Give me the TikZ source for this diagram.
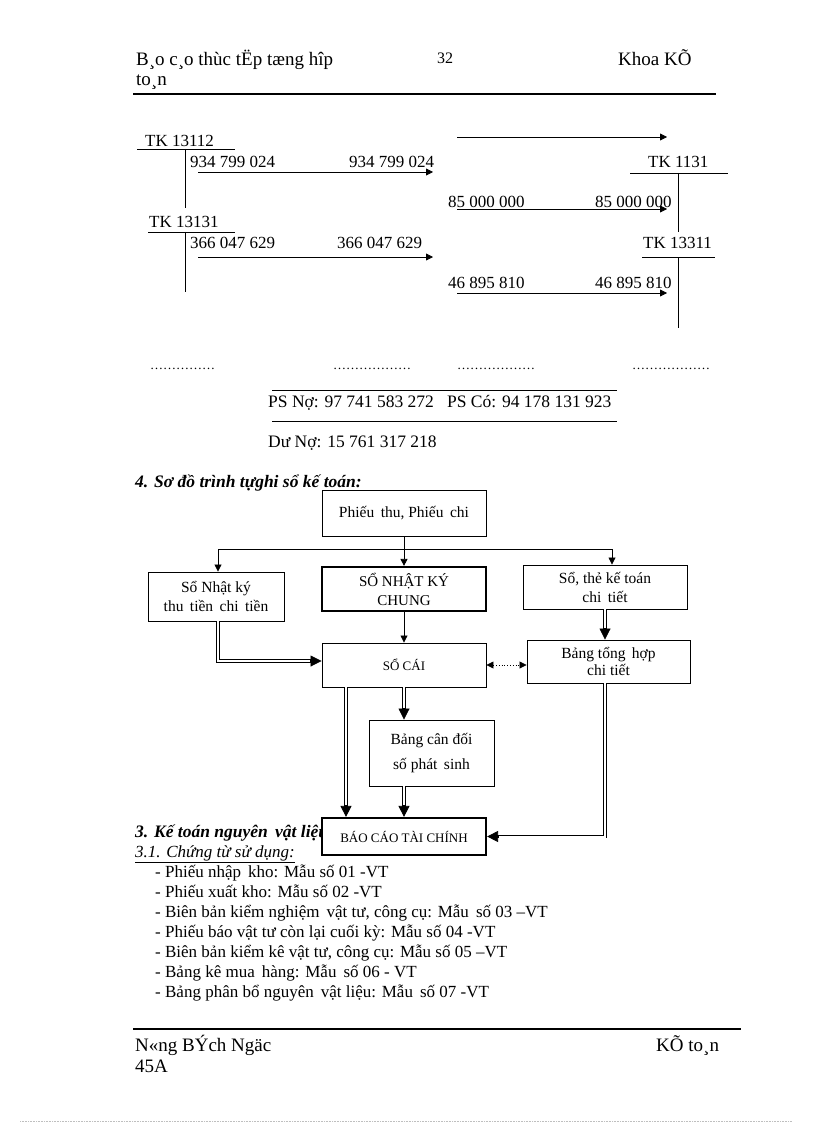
\documentclass[tikz,border=0pt]{standalone}
\usepackage{fontspec}
\setmainfont{Liberation Serif}
\usetikzlibrary{arrows.meta,calc}
\begin{document}
\begin{tikzpicture}[x=1pt,y=-1pt,
  hdr/.style={anchor=base west, inner sep=0pt, font=\fontsize{19}{22}\selectfont},
  num/.style={anchor=base west, inner sep=0pt, font=\fontsize{17}{20}\selectfont},
  body/.style={anchor=base west, inner sep=0pt, font=\fontsize{17}{20}\selectfont},
  head/.style={anchor=base west, inner sep=0pt, font=\fontsize{17.5}{20}\selectfont\bfseries\itshape},
  dots/.style={anchor=base west, inner sep=0pt, font=\fontsize{13}{15}\selectfont},
  thin/.style={line width=0.8pt},
  rule/.style={line width=2pt},
  box/.style={draw, line width=0.9pt, fill=white, align=center, inner sep=0pt, font=\fontsize{15.5}{19}\selectfont},
  boldbox/.style={box, line width=2.2pt},
  sarrow/.style={line width=0.8pt, -{Triangle[length=7pt,width=7pt]}},
  dblarrow/.style={line width=0.8pt, -{Triangle[length=11pt,width=11pt]},
    postaction={draw, -, line width=3.6pt, shorten >=10pt},
    postaction={draw=white, -, line width=2pt, shorten >=11.5pt}},
  dotarrow/.style={line width=0.8pt, dotted, {Triangle[length=7pt,width=7pt]}-{Triangle[length=7pt,width=7pt]}}
]
\useasboundingbox (0,0) rectangle (816,1123);

% ---------- header ----------
\node[hdr] (h1) at (136,66) {B¸o c¸o thùc tËp tæng hîp};
\node[hdr] (h2) at (136,86) {to¸n};
\node[anchor=base west, inner sep=0pt, font=\fontsize{16}{19}\selectfont] (h3) at (437,64) {32};
\node[hdr] (h4) at (618,66) {Khoa KÕ};
\coordinate (hr1) at (133,94); \coordinate (hr2) at (716,94);
\draw[rule] (hr1) -- (hr2);

% ---------- T accounts ----------
\node[num] (tk1) at (145,147) {TK 13112};
\coordinate (u1a) at (137,149); \coordinate (u1b) at (235,149);
\draw[thin] (u1a) -- (u1b);
\coordinate (v1a) at (185,149); \coordinate (v1b) at (185,208);
\draw[thin] (v1a) -- (v1b);
\node[num] (n1a) at (190,168) {934 799 024};
\node[num] (n1b) at (349,168) {934 799 024};
\coordinate (a1a) at (198,172); \coordinate (a1b) at (433,172);
\draw[sarrow] (a1a) -- (a1b);

\node[num] (tk2) at (149,228) {TK 13131};
\coordinate (u2a) at (148,232); \coordinate (u2b) at (235,232);
\draw[thin] (u2a) -- (u2b);
\coordinate (v2a) at (185,232); \coordinate (v2b) at (185,292);
\draw[thin] (v2a) -- (v2b);
\node[num] (n2a) at (190,248) {366 047 629};
\node[num] (n2b) at (337,248) {366 047 629};
\coordinate (a2a) at (198,257); \coordinate (a2b) at (433,257);
\draw[sarrow] (a2a) -- (a2b);

\coordinate (a0a) at (457,137); \coordinate (a0b) at (667,137);
\draw[sarrow] (a0a) -- (a0b);

\node[num] (tk3) at (648,168) {TK 1131};
\coordinate (u3a) at (630,173); \coordinate (u3b) at (728,173);
\draw[thin] (u3a) -- (u3b);
\coordinate (v3a) at (678,173); \coordinate (v3b) at (678,232);
\draw[thin] (v3a) -- (v3b);
\node[num] (n3a) at (448,208) {85 000 000};
\node[num] (n3b) at (595,208) {85 000 000};
\coordinate (a3a) at (457,209); \coordinate (a3b) at (667,209);
\draw[sarrow] (a3a) -- (a3b);

\node[num] (tk4) at (643,248) {TK 13311};
\coordinate (u4a) at (642,257); \coordinate (u4b) at (715,257);
\draw[thin] (u4a) -- (u4b);
\coordinate (v4a) at (678,257); \coordinate (v4b) at (678,328);
\draw[thin] (v4a) -- (v4b);
\node[num] (n4a) at (448,288) {46 895 810};
\node[num] (n4b) at (595,288) {46 895 810};
\coordinate (a4a) at (457,293); \coordinate (a4b) at (667,293);
\draw[sarrow] (a4a) -- (a4b);

% dots
\node[dots] (d1) at (150,369) {……………};
\node[dots] (d2) at (333,369) {………………};
\node[dots] (d3) at (457,369) {………………};
\node[dots] (d4) at (632,369) {………………};

% totals
\coordinate (r1a) at (272,390); \coordinate (r1b) at (617,390);
\draw[thin] (r1a) -- (r1b);
\node[num, font=\fontsize{17.5}{20}\selectfont] (ps) at (268,407) {PS Nợ: 97 741 583 272\hspace{0.75em}PS Có: 94 178 131 923};
\coordinate (r2a) at (272,421); \coordinate (r2b) at (617,421);
\draw[thin] (r2a) -- (r2b);
\node[num, font=\fontsize{17.5}{20}\selectfont] (du) at (268,447) {Dư Nợ: 15 761 317 218};

% ---------- section 4 ----------
\node[head] (s4) at (135,487) {4. Sơ đồ trình tựghi sổ kế toán:};
\node[head] (s3) at (135,837) {3. Kế toán nguyên\, vật liệu:};

\node[box, minimum width=164, minimum height=46] (phieu) at (404,513) {Phiếu\, thu, Phiếu\, chi};
\node[box, minimum width=136, minimum height=49] (sonk) at (216,596.5) {Sổ Nhật ký\\thu\, tiền\, chi\, tiền};
\node[boldbox, minimum width=164, minimum height=44, font=\fontsize{15}{19}\selectfont] (nkc) at (404,589) {SỔ NHẬT KÝ\\CHUNG};
\node[box, minimum width=164, minimum height=44] (sothe) at (605,587) {Sổ, thẻ kế toán\\chi\, tiết};
\node[box, minimum width=164, minimum height=44, font=\fontsize{13}{16}\selectfont] (socai) at (404,665) {SỔ CÁI};
\node[box, minimum width=163, minimum height=43, font=\fontsize{15.5}{17.5}\selectfont] (bth) at (608.5,661.5) {Bảng tổng\, hợp\\chi tiết};
\node[box, minimum width=125, minimum height=66, font=\fontsize{15.5}{25}\selectfont] (bcd) at (431.5,753) {Bảng cân đối\\số phát\, sinh};
\node[boldbox, minimum width=164, minimum height=37, font=\fontsize{13}{15}\selectfont] (bctc) at (404,836.5) {BÁO CÁO TÀI CHÍNH};

% connectors
\coordinate (jL) at (218,549); \coordinate (jR) at (612,549);
\draw[thin] (jL) -- (jR);
\draw[sarrow] (jL) -- (jL |- sonk.north);
\draw[sarrow] (jR) -- (jR |- sothe.north);
\draw[sarrow] (phieu.south) -- (nkc.north);
\draw[sarrow] (nkc.south) -- (socai.north);
\draw[dblarrow] ([xshift=2]sonk.south) |- ([yshift=4]socai.west);
\draw[dblarrow] (sothe.south) -- (sothe.south |- bth.north);
\draw[dotarrow] (socai.east) -- (socai.east -| bth.west);
\draw[dblarrow] (socai.south) -- (socai.south |- bcd.north);
\draw[dblarrow] ([xshift=-58]socai.south) -- ([xshift=-58]bctc.north);
\draw[dblarrow] (socai.south |- bcd.south) -- (bctc.north);
\draw[dblarrow] ([xshift=-3.5]bth.south) |- (bctc.east);

% ---------- list ----------
\node[body, font=\fontsize{17}{20}\selectfont\itshape] (s31) at (135,857) {\underline{3.1. Chứng từ sử dụng:}};
\node[body] (l1) at (155,877) {- Phiếu nhập\, kho: Mẫu số 01 -VT};
\node[body] (l2) at (155,897) {- Phiếu xuất kho: Mẫu số 02 -VT};
\node[body] (l3) at (155,917) {- Biên bản kiểm nghiệm\, vật tư, công cụ: Mẫu\, số 03 –VT};
\node[body] (l4) at (155,937) {- Phiếu báo vật tư còn lại cuối kỳ: Mẫu số 04 -VT};
\node[body] (l5) at (155,957) {- Biên bản kiểm kê vật tư, công cụ: Mẫu số 05 –VT};
\node[body] (l6) at (155,977) {- Bảng kê mua\, hàng: Mẫu\, số 06 - VT};
\node[body] (l7) at (155,997) {- Bảng phân bổ nguyên\, vật liệu: Mẫu\, số 07 -VT};

% ---------- footer ----------
\coordinate (fr1) at (133,1029); \coordinate (fr2) at (741,1029);
\draw[rule] (fr1) -- (fr2);
\node[hdr] (f1) at (135,1051) {N«ng BÝch Ngäc};
\node[hdr] (f2) at (135,1072) {45A};
\node[hdr] (f3) at (656,1051) {KÕ to¸n};
\coordinate (b1) at (20,1121.5); \coordinate (b2) at (792,1121.5);
\draw[densely dotted, line width=0.6pt, black!25] (b1) -- (b2);
\end{tikzpicture}
\end{document}
